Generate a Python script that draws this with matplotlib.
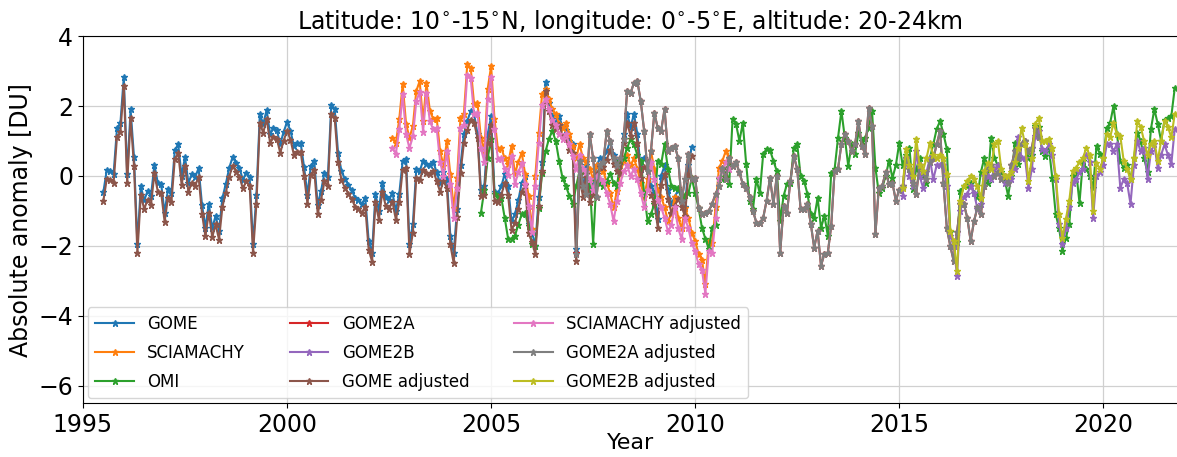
import numpy as np
import matplotlib
matplotlib.use("Agg")
import matplotlib.pyplot as plt

# monthly ozone anomalies [DU], first month given as decimal year
gome_start = 1995.5
gome = [-0.46, 0.17, 0.14, 0.05, 1.37, 1.5, 2.83, 0.05, 1.9, 0.54, -1.95, -0.3, -0.7, -0.43, -0.57, 0.32, -0.2, -0.24,
        -1.06, -0.37, -0.5, 0.74, 0.9, 0.0, 0.54, -0.2, 0.05, -0.03, 0.22, -0.83, -1.48, -0.8, -1.5, -1.14, -1.57, -0.63,
        -0.23, 0.23, 0.54, 0.37, 0.23, -0.11, 0.09, -0.03, -1.95, -0.54, 1.77, 1.48, 1.89, 1.2, 1.37, 1.31, 0.91, 1.26,
        1.54, 1.29, 0.86, 0.94, 0.94, 0.26, -0.54, 0.29, 0.43, -0.83, -0.43, 0.09, -0.03, 2.03, 1.91, 0.66, 0.14, -0.09,
        -0.26, -0.4, -0.63,
        -0.69, -0.8, -0.63, -1.86, -2.2, -0.51, -1.0, -0.2, -0.6, -0.69, -0.49, -1.0, -0.51, 0.43, 0.49, -1.94, -1.37,
        0.2, 0.14, 0.43, 0.34, 0.3, 0.4, 0.1, -0.2,
        0.1, -0.1, -1.71, -2.2, -0.94, 0.3, 1.2, 1.57, 1.86, 1.77, 1.2, -0.4, -0.3, 1.2, 1.7,
        -0.45, -0.5, -0.3, 0.06, -0.3, -1.29, -1.1, -0.7, -0.2, 0.0, -1.37, -1.6, -2.0, -0.6, 0.4,
        2.69, 2.1, 1.7, 1.6, 1.71, 1.4, 1.3, 1.0, 0.9, -2.1, 0.2, -0.34, 0.3, -0.49, -0.3, 0.3, 0.5, 0.5, 0.71, 1.0,
        0.6, 0.4, 0.3, 1.2, 1.77,
        1.4, 1.77, 1.2, 0.2, 0.5, 0.4, -0.3, -0.5, -1.23, 0.0, 0.3, -0.4, -0.8, -0.6, -0.4, -0.63, -0.9, 0.3, 0.83]

gome_adj = [-0.71, -0.08, -0.11, -0.2, 1.12, 1.25, 2.58, -0.2, 1.65, 0.29, -2.2, -0.55, -0.95, -0.68, -0.82, 0.07,
            -0.45, -0.49, -1.31, -0.62, -0.75, 0.49, 0.65, -0.25, 0.29, -0.45, -0.2, -0.28, -0.03, -1.08, -1.73, -1.05,
            -1.75, -1.39, -1.82, -0.88,
            -0.48, -0.02, 0.29, 0.12, -0.02, -0.36, -0.16, -0.28, -2.2, -0.79, 1.52, 1.23, 1.64, 0.95, 1.12, 1.06, 0.66,
            1.01, 1.29, 1.04, 0.61, 0.69, 0.69, 0.01, -0.79, 0.04, 0.18, -1.08, -0.68, -0.16, -0.28, 1.78, 1.66, 0.41,
            -0.11, -0.34, -0.51, -0.65, -0.88,
            -0.94, -1.05, -0.88, -2.11, -2.45, -0.76, -1.25, -0.45, -0.85, -0.94, -0.74, -1.25, -0.76, 0.18, 0.24,
            -2.23, -1.62, -0.05, -0.11, 0.18, 0.09, 0.05, 0.15, -0.15, -0.45,
            -0.14, -0.35, -1.96, -2.5, -1.19, 0.09, 0.95, 1.32, 1.61, 1.52, 1.09, -0.57, -0.55, 0.95, 1.45,
            -0.71, -0.75, -0.55, -0.19, -0.55, -1.54, -1.35, -0.95, -0.45, -0.25, -1.62, -1.9, -2.23, -0.85, 0.15,
            2.44, 1.85, 1.45, 1.35, 1.46, 1.15, 1.05, 0.75, 0.65, -2.43, -0.05, -0.59, 0.05, -0.74, -0.55, 0.05, 0.25,
            0.25, 0.46, 0.75, 0.35, 0.15, 0.05, 0.95, 1.52,
            1.15, 1.52, 0.95, -0.05, 0.25, 0.15, -0.55, -0.75, -1.48, -0.25, 0.05, -0.65, -1.05, -0.85, -0.65, -0.88,
            -1.15, 0.05, 0.58]

scia_start = 2002.583
scia = [1.09, 0.94, 1.63, 2.63, 1.49, 1.09, 1.43, 2.43, 2.71, 1.57, 2.66, 1.86, 1.63, 1.66, 0.71, 0.29, 1.0, 0.06,
        -0.91, -0.06, 1.66, 1.77, 3.2, 3.09, 2.06, 2.09, 1.09, 0.71, 2.49, 3.14,
        1.63, 0.77, 0.8, 0.5, 0.34, 0.86, 0.06, 0.4, 0.66, 0.06, -0.57, -1.51, 0.0, 1.23, 2.34, 2.49, 2.2, 1.9, 1.77,
        1.49, 1.37, 1.51, 1.2, 0.86, 0.5, 0.91, 0.51, 0.4, 0.2, -0.09, 0.3, 0.2, 0.14, -0.2, -0.5, -0.9, -0.43, 0.1,
        0.43,
        0.6, 0.3, 0.5, 0.2, -0.2, -0.6, -0.1, 0.71, 0.2, -0.4, -0.6, -0.9, -1.29, -1.1, -0.6, -1.2, -1.5, -0.91, -1.2,
        -1.63, -1.86, -2.23, -2.4, -3.1, -1.86, -1.91, -0.9, 0.23, 0.43, 0.71, 0.5]

scia_adj = [0.79, 0.64, 1.33, 2.33, 1.19, 0.79, 1.13, 2.13, 2.41, 1.27, 2.36, 1.56, 1.33, 1.36, 0.41, -0.01, 0.7,
            -0.24, -1.21, -0.36, 1.36, 1.47, 2.9, 2.79, 1.76, 1.79, 0.79, 0.41, 2.19, 2.84,
            1.33, 0.47, 0.5, 0.2, 0.04, 0.56, -0.24, 0.1, 0.36, -0.24, -0.87, -1.6, -0.3, 0.93, 2.04, 2.19, 1.9, 1.6,
            1.47, 1.19, 1.07, 1.21, 0.9, 0.56, 0.2, 0.61, 0.21, 0.1, -0.1, -0.39, 0.0, -0.1, -0.16, -0.5, -0.8, -1.29,
            -0.73, -0.2, 0.13,
            0.3, 0.0, 0.2, -0.1, -0.5, -0.9, -0.4, 0.41, -0.1, -0.7, -0.9, -1.2, -1.59, -1.4, -0.9, -1.5, -1.8, -1.21,
            -1.5, -1.93, -2.16, -2.53, -2.7, -3.37, -2.16, -2.21, -1.2, -0.07, 0.13, 0.41, 0.2]

omi_start = 2004.75
omi = [-1.06, -0.4, 0.51, 1.06,
       -0.51, -0.6, -0.63, -1.2, -1.8, -1.8, -1.71, -1.4, -1.09, -1.06, -1.43, -1.94, -2.0, -0.91, 0.09, 0.7, 1.06,
       1.29, 1.0, 0.43, -0.06, -0.29, -0.57, -0.8, -0.3, 0.14, 0.1, 0.06, -0.14, -1.94, -0.06, -0.2, -0.3, -0.14, 0.06,
       -0.2, -0.3, 0.43, 0.5, 0.8, 1.06,
       0.9, 0.6, 0.43, -0.5, -1.29, -1.1, -0.8, 0.43, 0.34, 0.91, 0.2, -0.29, -0.34, -0.34, -0.63, -0.55, -0.5, -0.06,
       -0.5, -0.91, -1.49, -1.8, -2.09, -1.49, -1.4, -0.09, -0.1, 0.2, -0.23, 1.63, 1.49, 1.0, 1.51, 0.34, -0.71, -0.94,
       -0.09, -0.5, 0.63, 0.77,
       0.74, 0.43, 0.14, -1.29, -0.57, -0.23, -0.2, 0.8, 0.91, 0.0, -0.14, -0.51, -1.09, -1.2, -0.63, -1.49, -1.14,
       -1.71, 0.09, 0.2, 1.09, 1.86, 1.09, 0.29, 0.9, 0.63, 1.23, 1.0, 1.09, 1.37, 1.86, 0.23, -0.5, -0.34, 0.0, 0.43,
       -0.06, 0.3, 0.94,
       0.3, 0.6, 0.8, -0.37, 0.2, 0.51, 0.0, -0.2, 0.51, 0.9, 1.34, 1.57, 1.2, 0.77, -1.6, -2.0, -1.9, -0.43, -0.3,
       -0.3, -0.2, -0.5, -0.6, 0.1, 0.51, -0.2, 1.09, 0.5, 0.3, 0.1, -0.1, -0.57, 0.0, 0.94, 0.34, 0.9, 1.0, 0.5, 0.6,
       1.43, 1.4, 0.71, 0.57, 0.8, -0.06, -1.09, -1.5, -2.14, -1.77, -1.37, 0.0, 0.14, -0.77, 0.43, 0.2, 0.0, -0.34,
       0.86, 0.63, 0.51, 1.37, 1.51, 2.0, 1.2, 0.43, 0.23, 0.3, -0.1, 0.5, 1.23, 1.0, 0.5, 0.1, 1.34, 1.91, 1.49, 1.0,
       1.6, 1.66, 1.71, 2.51]

gome2a_start = 2007.083
gome2a = [-2.2, 0.43, -0.3, -0.51, 1.2, 0.5, -0.6, 0.3, 0.4, 1.29, 1.0, 0.5, 0.3, 0.5, 1.06, 2.43, 2.37,
          2.66, 2.71, 2.14, 1.29, 0.14, 0.71, 1.8, 1.37, 1.29, 1.91, 0.71, 0.8, 0.86, 0.51, -0.71, -0.1, 0.63, -0.09,
          -0.06, -0.91, -1.09, -1.06, -1.0, -0.8, -0.51, -0.3, 0.23, -0.1, 0.51, 0.29, 0.4, 0.1, -0.23, -0.34, -0.6,
          -1.0, -1.34, -1.34, -1.2, -0.71,
          -0.06, -0.8, 0.0, -2.2, -0.86, -1.06, -0.14, 0.57, 0.2, -0.94, -0.94, -0.8, -1.37, -2.06, -1.57, -2.57,
          -2.23, -2.2, -1.43, 0.14, 0.2, 0.91, 1.2, 1.0, 0.71, 0.9, 1.57, 0.86, 0.63, 1.94, 1.43, -1.66, -0.34, -0.29,
          0.1, -0.23, -0.2, -0.71, -0.4,
          -0.3, 0.5, 0.2, -0.2, -0.51, 0.3, 0.1, -0.1, 0.4, 0.5, 0.9, 1.29, -0.2, -1.5, -2.0, -2.43, -1.6, -0.8, -0.8,
          -1.2, -1.86, -1.29, -0.9, -1.1, -0.3, 0.2, 0.3, 0.0, 0.1, -0.1, 0.0, -0.2, 0.3, 0.7, 0.5, 0.9, 1.0, 0.7, 0.8,
          1.37, 1.1]

gome2a_adj = [-2.23, 0.43, -0.3, -0.51, 1.2, 0.5, -0.6, 0.3, 0.4, 1.29, 1.0, 0.5, 0.3, 0.5, 1.06, 2.43, 2.37,
              2.66, 2.71, 2.14, 1.29, 0.14, 0.71, 1.8, 1.37, 1.29, 1.91, 0.71, 0.8, 0.86, 0.51, -0.71, -0.1, 0.63, -0.09,
              -0.06, -0.91, -1.09, -1.06, -1.0, -0.8, -0.51, -0.3, 0.23, -0.1, 0.51, 0.29, 0.4, 0.1, -0.23, -0.34, -0.6,
              -1.0, -1.34, -1.34, -1.2, -0.71,
              -0.06, -0.8, 0.0, -2.2, -0.86, -1.06, -0.14, 0.57, 0.2, -0.94, -0.94, -0.8, -1.37, -2.06, -1.57, -2.57,
              -2.23, -2.2, -1.43, 0.14, 0.2, 0.91, 1.2, 1.0, 0.71, 0.9, 1.57, 0.86, 0.63, 1.94, 1.43, -1.66, -0.34,
              -0.29, 0.1, -0.23, -0.2, -0.71, -0.4,
              -0.3, 0.5, 0.2, -0.2, -0.51, 0.3, 0.1, -0.1, 0.4, 0.5, 0.9, 1.29, -0.2, -1.5, -2.0, -2.43, -1.6, -0.8,
              -0.8, -1.2, -1.86, -1.29, -0.9, -1.1, -0.3, 0.2, 0.3, 0.0, 0.1, -0.1, 0.0, -0.2, 0.3, 0.7, 0.5, 0.9, 1.0,
              0.7, 0.8, 1.37, 1.1]

gome2b_start = 2015.083
gome2b = [-0.57, 0.5, 0.0, -0.3, 0.7, 0.0, -0.34, 0.1, 0.5, -0.1, 0.3, 0.3, 0.3, -0.3, -1.71, -2.0, -2.86, -1.0, -0.6,
          -0.51, -0.3, -0.5, -0.94, -0.8, 0.0, 0.0, -0.1, 0.2, 0.3, -0.1, -0.2, -0.2, -0.1, 0.2, 1.1, 0.5, 0.5, -0.34,
          0.2, 1.14, 1.29, 0.77, 0.7, 0.9, 0.6, -0.09, -1.37, -1.94, -1.5, -0.9, -0.2, -0.1, 0.1, 0.2, 0.6, 0.4, -1.2,
          0.0, 0.1, 0.3, 0.9, 0.9, 0.71, 0.9, -0.34, -0.1, -0.2, -0.8, 0.3, 1.0, 0.7, 0.8, -0.09, 0.7, 0.9, 0.23, 0.6,
          0.9, 0.6, 0.34, 1.34]

gome2b_adj = [-0.34, 0.77, 0.3, 0.0, 1.06, 0.3, 0.15, 0.5, 0.94, 0.6, 0.5, 0.6, 0.5, 0.06, -1.57, -1.86, -2.71, -0.71,
              -0.29, -0.15, 0.0, -0.1, -0.3, -0.63, 0.14, 0.37, 0.2, 0.9, 1.0, 0.2, 0.0, 0.0, 0.1, 0.4, 0.8, 1.37, 0.9,
              -0.14, 0.5, 1.49, 1.66, 1.0, 1.0, 1.06, 0.8, 0.0, -1.09, -1.77, -1.23, -0.71, 0.14, 0.23, 0.4, 0.5, 0.8,
              0.6, -1.0, 0.37, 0.2, 0.5, 1.2, 1.1, 1.51, 1.2, 1.14, 0.43, 0.2, -0.1, 0.5, 1.57, 1.4, 1.0, 0.6, 0.9, 1.0,
              0.43, 1.0, 1.57, 1.4, 1.1, 1.77]


def months(start, values):
    return start + np.arange(len(values)) / 12.0


series = [
    ("GOME", gome_start, gome),
    ("SCIAMACHY", scia_start, scia),
    ("OMI", omi_start, omi),
    ("GOME2A", gome2a_start, gome2a),
    ("GOME2B", gome2b_start, gome2b),
    ("GOME adjusted", gome_start, gome_adj),
    ("SCIAMACHY adjusted", scia_start, scia_adj),
    ("GOME2A adjusted", gome2a_start, gome2a_adj),
    ("GOME2B adjusted", gome2b_start, gome2b_adj),
]

fig = plt.figure(figsize=(11.77, 4.57), dpi=100)
ax = fig.add_axes([0.0705, 0.118, 0.93, 0.803])

for i, (name, start, vals) in enumerate(series):
    ax.plot(months(start, vals), vals, color="C%d" % i, marker="*", markersize=5,
            linewidth=1.5, label=name)

ax.set_xlim(1995, 2021.82)
ax.set_ylim(-6.5, 4)
ax.set_xticks([1995, 2000, 2005, 2010, 2015, 2020])
ax.set_yticks([-6, -4, -2, 0, 2, 4])
ax.tick_params(labelsize=17)
ax.grid(True, color="#d0d0d0", linewidth=0.9)
ax.set_axisbelow(True)

ax.set_xlabel("Year", fontsize=16, labelpad=-3)
ax.set_ylabel("Absolute anomaly [DU]", fontsize=17, labelpad=4)
ax.set_title("Latitude: 10$^{\\circ}$-15$^{\\circ}$N, longitude: 0$^{\\circ}$-5$^{\\circ}$E, altitude: 20-24km",
             fontsize=17, pad=5)

ax.legend(loc="lower left", ncol=3, fontsize=12, handlelength=2.3, handletextpad=0.8,
          columnspacing=2.7, labelspacing=0.65, borderaxespad=0.3, borderpad=0.45)

fig.savefig("out.png", dpi=100)
